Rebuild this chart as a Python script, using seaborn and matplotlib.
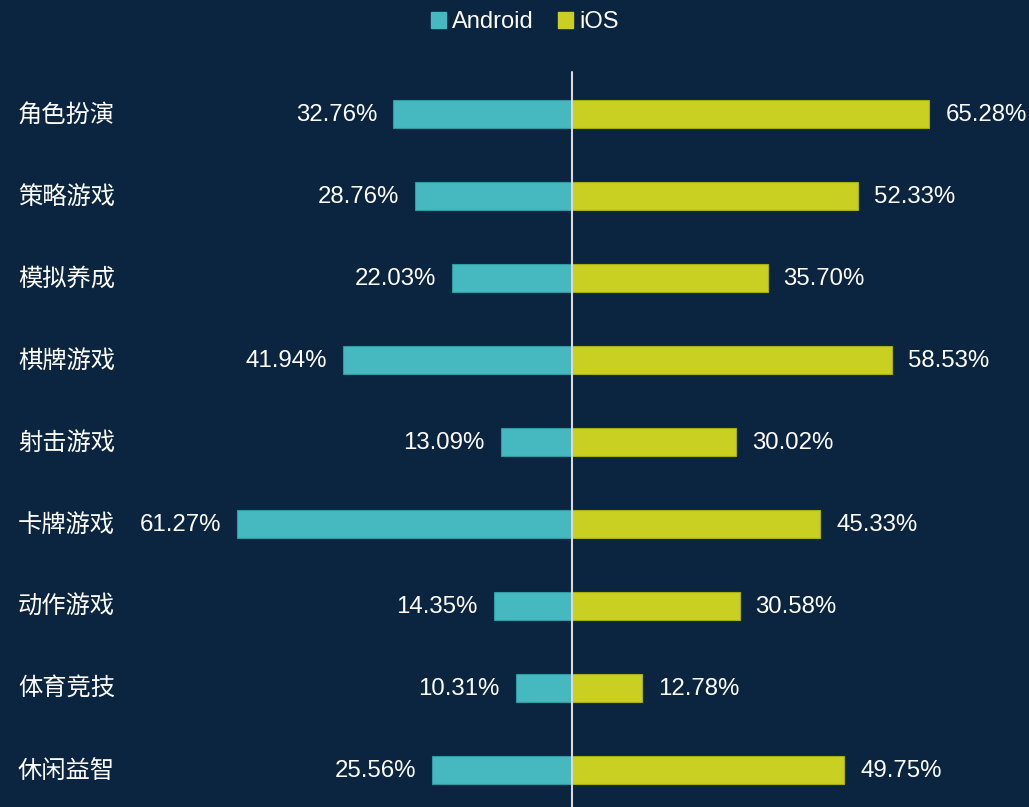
import matplotlib
matplotlib.use("Agg")
import matplotlib.pyplot as plt
import seaborn as sns
import pandas as pd
from matplotlib.patches import Rectangle

categories = ["角色扮演", "策略游戏", "模拟养成", "棋牌游戏", "射击游戏", "卡牌游戏", "动作游戏", "体育竞技", "休闲益智"]
android = [32.76, 28.76, 22.03, 41.94, 13.09, 61.27, 14.35, 10.31, 25.56]
ios = [65.28, 52.33, 35.70, 58.53, 30.02, 45.33, 30.58, 12.78, 49.75]
series_names = ["Android", "iOS"]

BG = "#0b2440"
C_AND = "#45b8c0"
C_IOS = "#c9d022"

sns.set_theme(style="white")
plt.rcParams["font.family"] = ["Liberation Sans", "Noto Sans CJK SC", "DejaVu Sans"]

fig = plt.figure(figsize=(10.29, 8.07), dpi=100, facecolor=BG)
ax = fig.add_axes([0, 0, 1, 1])
ax.set_facecolor(BG)

df = pd.DataFrame({"cat": categories, "android": [-v for v in android], "ios": ios})
sns.barplot(data=df, x="android", y="cat", orient="h", color=C_AND, width=0.34,
            saturation=1, edgecolor="#2f9aa2", linewidth=0.8, ax=ax)
sns.barplot(data=df, x="ios", y="cat", orient="h", color=C_IOS, width=0.34,
            saturation=1, edgecolor="#a9ae10", linewidth=0.8, ax=ax)

ax.set_xlim(-104.6, 83.5)
ax.set_ylim(8.45, -1.39)
ax.axis("off")

# center line
ax.plot([0, 0], [-0.51, 8.45], color="#d8d8d8", lw=1.5, zorder=5)

for i, (a, b) in enumerate(zip(android, ios)):
    ax.annotate(f"{a:.2f}%", xy=(-a, i), xytext=(-11.5, -1), textcoords="offset points",
                ha="right", va="center", color="white", fontsize=17.3)
    ax.annotate(f"{b:.2f}%", xy=(b, i), xytext=(11.5, -1), textcoords="offset points",
                ha="left", va="center", color="white", fontsize=17.3)
    ax.text(18 / 1029, 1 - (115 + 82 * i) / 807, categories[i], transform=ax.transAxes,
            ha="left", va="center", color="white", fontsize=17.5,
            family=["Noto Sans CJK SC", "DejaVu Sans"])

# legend
handles = [Rectangle((0, 0), 1, 1, color=C_AND), Rectangle((0, 0), 1, 1, color=C_IOS)]
leg = fig.legend(handles, series_names, loc="center", bbox_to_anchor=(0.51, 1 - 22 / 807),
                 ncol=2, frameon=False, fontsize=17, handlelength=0.65, handleheight=0.65,
                 handletextpad=0.25, columnspacing=1.0, labelcolor="white")

fig.savefig("out.png", dpi=100, facecolor=BG)
